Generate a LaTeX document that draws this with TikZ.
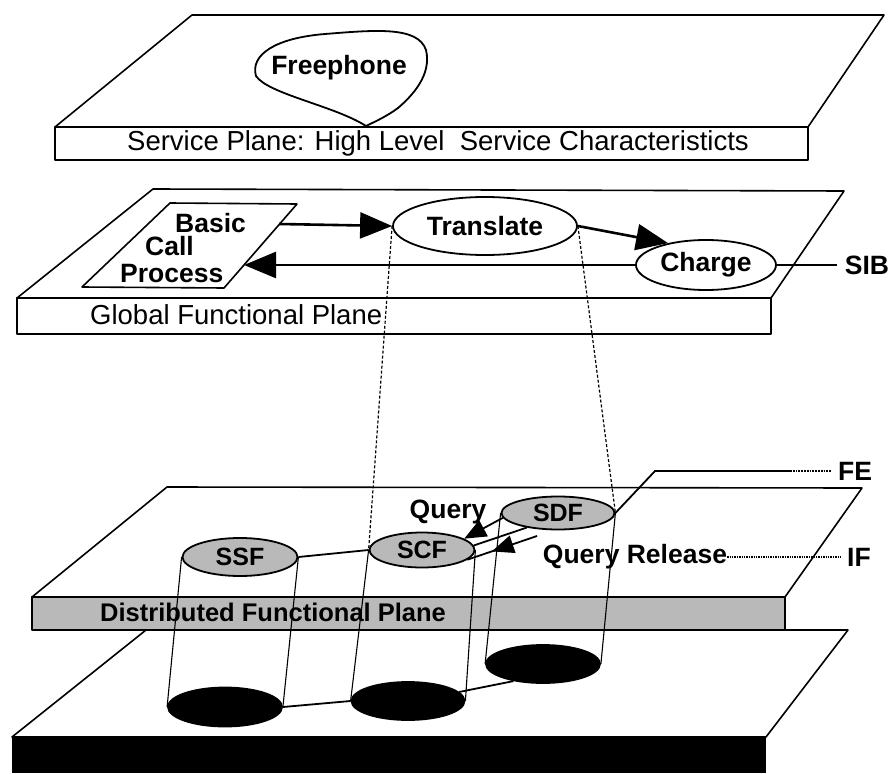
\documentclass[tikz,border=0pt]{standalone}
\usepackage{fontspec}
\setmainfont{Liberation Sans}
\usetikzlibrary{arrows.meta,shapes.geometric,decorations.markings}

\tikzset{
  face/.style={draw,line width=1.6pt,fill=white,line join=round},
  plab/.style={font=\fontsize{27.5}{30}\selectfont,inner sep=0pt,anchor=west},
  lbl/.style={font=\fontsize{26.5}{28}\selectfont\bfseries,inner sep=0pt},
  fn/.style={ellipse,draw,line width=1.8pt,inner sep=0pt},
  topfe/.style={fn,fill=gray!55,font=\fontsize{25}{27}\selectfont\bfseries},
  botfe/.style={fn,fill=black},
  flow/.style={-{Triangle[length=32pt,width=26pt]},line width=2.6pt},
  qarrow/.style={-{Triangle[length=22pt,width=18pt]},line width=1.8pt},
  midtip/.style={line width=1.8pt,decoration={markings,mark=at position 0.65 with {\arrow{Triangle[length=22pt,width=18pt]}}},postaction={decorate}},
  proj/.style={dash pattern=on 3pt off 2pt,line width=1.2pt},
  side/.style={line width=1.1pt}
}

\begin{document}
\begin{tikzpicture}[x=1pt,y=-1pt]
\useasboundingbox (0,0) rectangle (896,773);

\draw[face] (192,15) -- (884,15) -- (808,127) -- (55,127) -- cycle;
\draw[face] (55,127) rectangle (808,160);
\node[plab] (splane) at (127,143) {Service Plane: High Level~ Service Characteristicts};
\draw[line width=1.8pt] (366,126) .. controls (335,106) and (268,94) .. (256,76)
  .. controls (250,55) and (275,38) .. (325,34) .. controls (375,30) and (418,26) .. (426,50)
  .. controls (432,75) and (412,96) .. (398,108) .. controls (386,117) and (372,123) .. (366,126);
\node[lbl] (fp) at (339,68) {Freephone};

\draw[face] (153,189) -- (844,191) -- (771,298) -- (17,298) -- cycle;
\draw[face] (17,298) rectangle (771,334);
\node[plab] (gplane) at (90,315) {Global Functional Plane};

\draw[line width=1.6pt,line join=round] (170,203) -- (297,204) -- (224,288) -- (82,287) -- cycle;
\node[lbl,anchor=base west] (basic) at (175,232) {Basic};
\node[lbl,anchor=base west] (call) at (145,255) {Call};
\node[lbl,anchor=base west] (process) at (120,282) {Process};
\coordinate (bcpout) at (279,224);
\coordinate (bcpin) at (244,265);

\node[fn,lbl,minimum width=184pt,minimum height=58pt] (trans) at (485,226) {Translate};
\node[fn,lbl,minimum width=140pt,minimum height=50pt] (chg) at (706,265) {Charge};
\node[lbl,inner sep=8pt] (sib) at (867,265) {SIB};

\draw[flow] (bcpout) -- (trans.west);
\draw[flow] (trans.east) -- (chg.150);
\draw[flow] (chg.west) -- (bcpin);
\draw[line width=1.8pt] (chg.east) -- (sib.west);

\draw[face] (12,737) -- (146,630) -- (848,630) -- (766,737) -- cycle;
\fill (12,737) rectangle (766,773);

\draw[face] (167,487) -- (862,488) -- (785,597) -- (32,597) -- cycle;
\draw[face,fill=gray!55] (32,597) rectangle (785,630);
\node[plab,font=\fontsize{25.5}{27}\selectfont\bfseries] (dplane) at (100,612) {Distributed Functional Plane};

\node[botfe,minimum width=114pt,minimum height=39pt] (ssfb) at (225,707) {};
\node[botfe,minimum width=113pt,minimum height=38pt] (scfb) at (408,701) {};
\node[botfe,minimum width=114pt,minimum height=38pt] (sdfb) at (543,664) {};

\node[topfe,minimum width=115pt,minimum height=38pt] (ssf) at (240,557) {SSF};
\node[topfe,minimum width=105pt,minimum height=35pt] (scf) at (422,550) {SCF};
\node[topfe,minimum width=113pt,minimum height=33pt] (sdf) at (558,513) {SDF};

\draw[side] (ssf.west) -- (ssfb.west);
\draw[side] (ssf.east) -- (ssfb.east);
\draw[side] (scf.west) -- (scfb.west);
\draw[side] (scf.east) -- (scfb.east);
\draw[side] (sdf.west) -- (sdfb.west);
\draw[side] (sdf.east) -- (sdfb.east);

\draw[line width=1.8pt] (ssf.east) -- (scf.west);
\draw[line width=1.8pt] (ssfb.east) -- (scfb.west);
\draw[line width=1.8pt] (scfb.10) -- (sdfb.210);

\node[lbl] (query) at (448,512) {Query};
\node[lbl] (qrel) at (635,557) {Query Release};
\coordinate (relstart) at (537,536);
\draw[qarrow] (sdf.185) -- (scf.15);
\draw[line width=1.8pt] (scf.5) -- (sdf.205);
\draw[midtip] (relstart) -- (scf.-12);

\node[lbl,inner sep=6pt] (fe) at (855,471) {FE};
\node[lbl,inner sep=6pt] (ifl) at (859,557) {IF};
\coordinate (fek) at (655,471);
\coordinate (fed) at (790,471);
\draw[line width=1.8pt] (sdf.east) -- (fek) -- (fed);
\draw[densely dotted,line width=1.8pt] (fed) -- (fe.west);
\draw[densely dotted,line width=1.4pt] (qrel.east) -- (ifl.west);

\draw[proj] (trans.west) -- (scf.west);
\draw[proj] (trans.east) -- (sdf.east);
\end{tikzpicture}
\end{document}
